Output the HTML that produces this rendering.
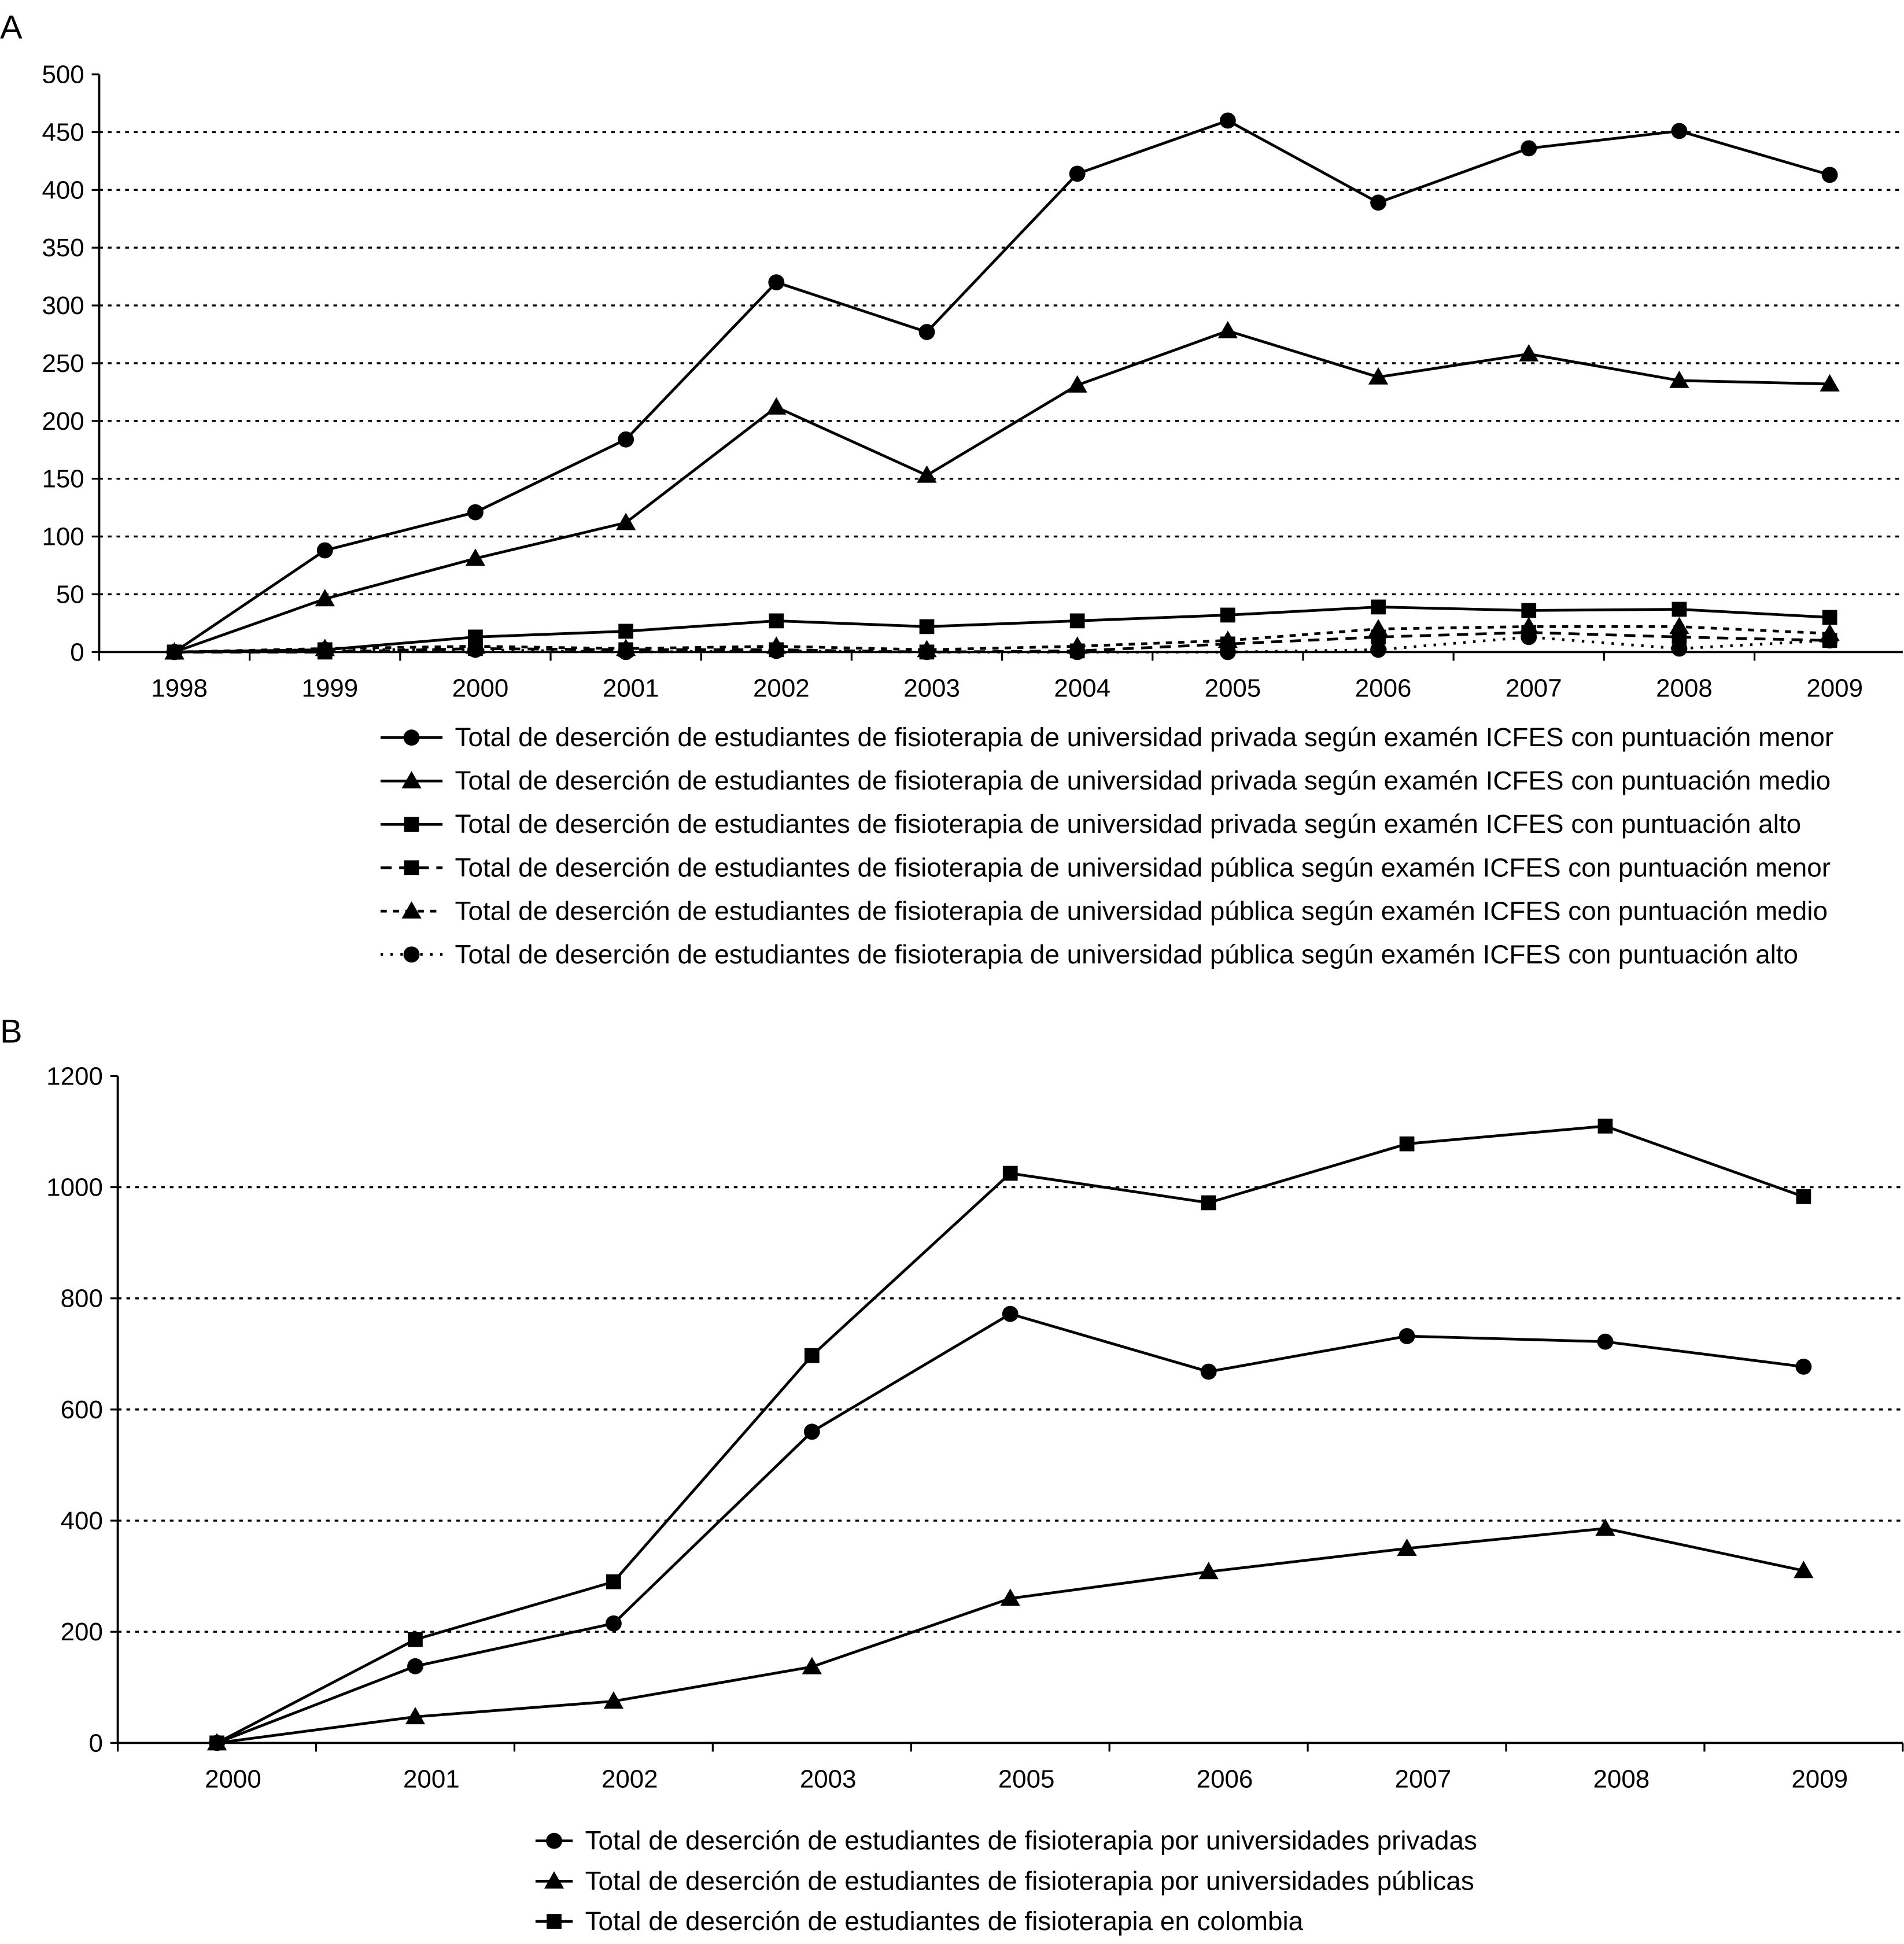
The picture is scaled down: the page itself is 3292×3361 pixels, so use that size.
<!DOCTYPE html>
<html><head><meta charset="utf-8"><style>
html,body{margin:0;padding:0;background:#fff;}
svg{display:block;font-family:"Liberation Sans",sans-serif;}
</style></head><body>
<svg id="chart" width="3292" height="3361" viewBox="0 0 1536 1568.2" xmlns="http://www.w3.org/2000/svg">
<text x="0" y="31" font-size="27">A</text>
<text x="0" y="841" font-size="27">B</text>
<g id="ga"></g><g id="gb"></g>
</svg>
<script>
const NS="http://www.w3.org/2000/svg";
// ---- Panel A data ----
const yearsA=["1998","1999","2000","2001","2002","2003","2004","2005","2006","2007","2008","2009"];
const privMenor=[0,88,121,184,320,277,414,460,389,436,451,413];
const privMedio=[0,46,81,112,212,153,231,278,238,258,235,232];
const privAlto=[0,2,13,18,27,22,27,32,39,36,37,30];
const pubMenor=[0,0,3,2,2,0,1,7,13,17,13,10];
const pubMedio=[0,3,5,3,5,2,5,10,20,22,22,16];
const pubAlto=[0,2,2,0,1,0,0,0,2,13,3,10];
const ticksA=[0,50,100,150,200,250,300,350,400,450,500];
const labelsA=["Total de deserción de estudiantes de fisioterapia de universidad privada según examén ICFES con puntuación menor",
"Total de deserción de estudiantes de fisioterapia de universidad privada según examén ICFES con puntuación medio",
"Total de deserción de estudiantes de fisioterapia de universidad privada según examén ICFES con puntuación alto",
"Total de deserción de estudiantes de fisioterapia de universidad pública según examén ICFES con puntuación menor",
"Total de deserción de estudiantes de fisioterapia de universidad pública según examén ICFES con puntuación medio",
"Total de deserción de estudiantes de fisioterapia de universidad pública según examén ICFES con puntuación alto"];
// ---- Panel B data ----
const yearsB=["2000","2001","2002","2003","2005","2006","2007","2008","2009"];
const privTot=[0,138,215,560,772,668,732,722,677];
const pubTot=[0,47,75,137,260,308,350,386,310];
const colTot=[0,186,290,697,1025,972,1078,1110,983];
const ticksB=[0,200,400,600,800,1000,1200];
const labelsB=["Total de deserción de estudiantes de fisioterapia por universidades privadas",
"Total de deserción de estudiantes de fisioterapia por universidades públicas",
"Total de deserción de estudiantes de fisioterapia en colombia"];

function el(p,t,a){const e=document.createElementNS(NS,t);for(const k in a)e.setAttribute(k,a[k]);p.appendChild(e);return e;}
function marker(g,type,x,y){
  let m;
  if(type==="circle")m=el(g,"circle",{cx:x,cy:y,r:6.5,fill:"#000"});
  else if(type==="square")m=el(g,"rect",{x:x-6,y:y-6,width:12,height:12,fill:"#000"});
  else m=el(g,"polygon",{points:`${x},${y-8} ${x+8},${y+6} ${x-8},${y+6}`,fill:"#000"});
  
  
}
function panel(g,cfg){
  const {x0,x1,y0,ppu,cats,ticks,series,spacing}=cfg;
  const ys=v=>y0-v*ppu, xs=i=>x0+spacing/2+spacing*i;
  const top=ticks[ticks.length-1];
  ticks.forEach(t=>{
    if(t>0&&t<top){const gl=el(g,"line",{x1:x0,x2:x1,y1:ys(t),y2:ys(t),stroke:"#000","stroke-width":1.6,"stroke-dasharray":"3,4"});
    }
    el(g,"line",{x1:x0-6,x2:x0,y1:ys(t),y2:ys(t),stroke:"#000","stroke-width":1.5});
    const tl=el(g,"text",{x:x0-12,y:ys(t)+7,"font-size":20.5,"text-anchor":"end"});tl.textContent=t;
    
  });
  const ya=el(g,"line",{x1:x0,x2:x0,y1:ys(top),y2:y0,stroke:"#000","stroke-width":1.8});
  
  const xa=el(g,"line",{x1:x0,x2:x1,y1:y0,y2:y0,stroke:"#000","stroke-width":1.8});
  
  for(let i=0;i<=cats.length;i++)el(g,"line",{x1:x0+spacing*i,x2:x0+spacing*i,y1:y0,y2:y0+7,stroke:"#000","stroke-width":1.5});
  cats.forEach((c,i)=>{const t=el(g,"text",{x:xs(i)+cfg.lblOff,y:y0+36,"font-size":20.5,"text-anchor":"middle"});t.textContent=c;
    });
  series.forEach((s,k)=>{
    const sg=el(g,"g",{});
    
    const pts=s.data.map((v,i)=>xs(i)+","+ys(v)).join(" ");
    const pl=el(sg,"polyline",{points:pts,fill:"none",stroke:"#000","stroke-width":2.2,"stroke-dasharray":s.dash||"none"});
    
    s.data.forEach((v,i)=>marker(sg,s.m,xs(i),ys(v)));
    const ly=cfg.legY+cfg.legStep*k;
    const lg=el(g,"g",{});
    
    el(lg,"line",{x1:cfg.legX,x2:cfg.legX+cfg.legW,y1:ly,y2:ly,stroke:"#000","stroke-width":2.2,"stroke-dasharray":s.dash||"none"});
    marker(lg,s.m,cfg.legX+cfg.legW/2,ly);
    const t=el(lg,"text",{x:cfg.legX+cfg.legW+10,y:ly+7,"font-size":21.4});t.textContent=s.label;
  });
}
panel(document.getElementById("ga"),{x0:80,x1:1535,y0:526,ppu:0.932,cats:yearsA,ticks:ticksA,spacing:121.4,lblOff:4,
 legX:307,legW:50,legY:595,legStep:35,
 series:[{data:privMenor,m:"circle",label:labelsA[0]},{data:privMedio,m:"tri",label:labelsA[1]},{data:privAlto,m:"square",label:labelsA[2]},
 {data:pubMenor,m:"square",dash:"9,6",label:labelsA[3]},{data:pubMedio,m:"tri",dash:"5,5",label:labelsA[4]},{data:pubAlto,m:"circle",dash:"2,6",label:labelsA[5]}]});
panel(document.getElementById("gb"),{x0:95,x1:1535,y0:1406,ppu:0.4483,cats:yearsB,ticks:ticksB,spacing:160,lblOff:13,
 legX:432,legW:30,legY:1485,legStep:32.5,
 series:[{data:privTot,m:"circle",label:labelsB[0]},{data:pubTot,m:"tri",label:labelsB[1]},{data:colTot,m:"square",label:labelsB[2]}]});
</script>
</body></html>
